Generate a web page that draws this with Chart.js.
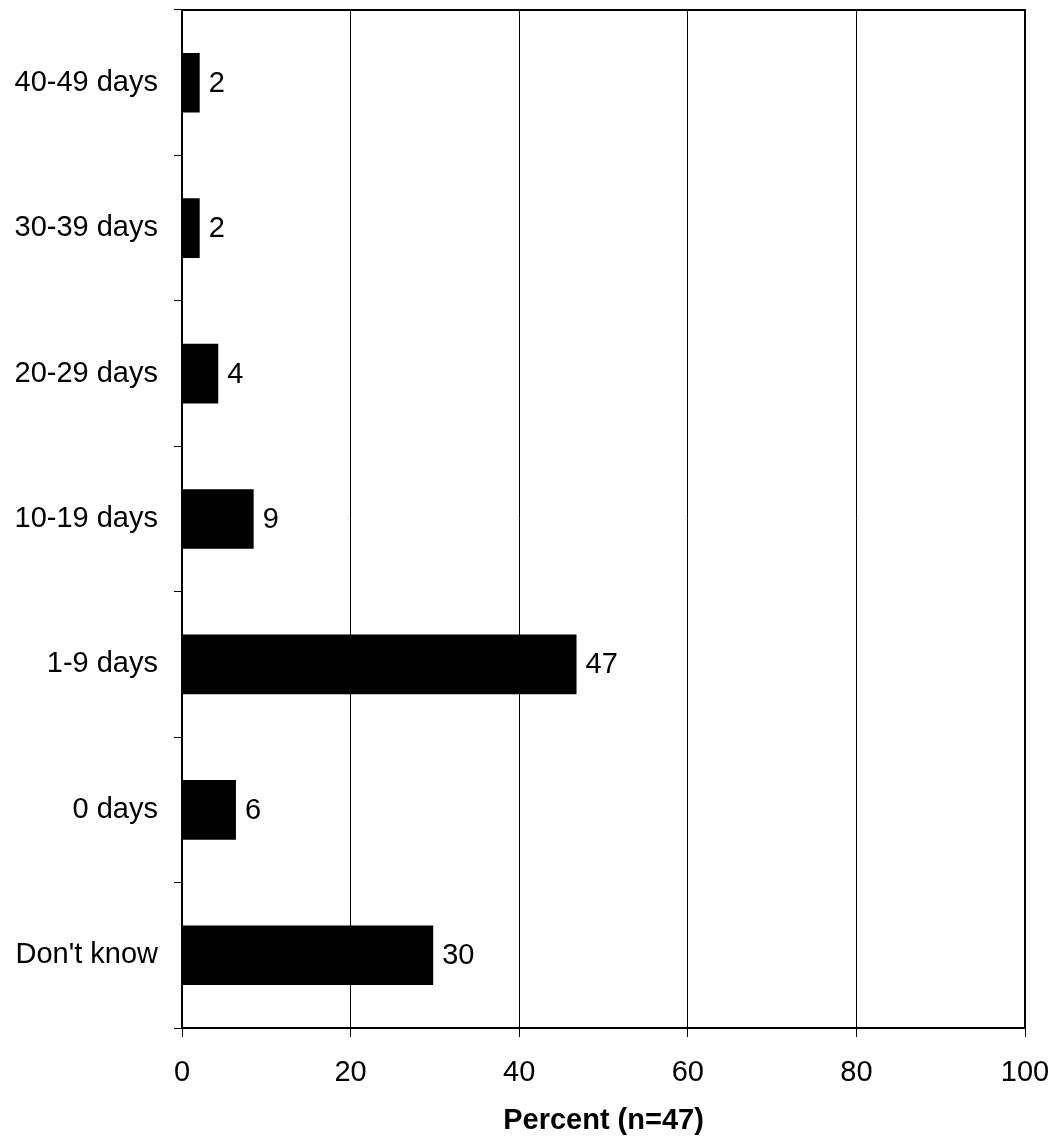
<!DOCTYPE html>
<html>
<head>
<meta charset="utf-8">
<script src="https://cdn.jsdelivr.net/npm/chart.js@4/dist/chart.umd.min.js"></script>
<style>
  body { margin: 0; background: #fff; }
  canvas { display: block; }
</style>
</head>
<body>
<canvas id="barChart" width="1053" height="1138"></canvas>
<script>
var categories = ["40-49 days", "30-39 days", "20-29 days", "10-19 days", "1-9 days", "0 days", "Don't know"];
var percents = [2.1, 2.1, 4.3, 8.5, 46.8, 6.4, 29.8];
var xTicks = [0, 20, 40, 60, 80, 100];

var FONT = "'Liberation Sans', Arial, sans-serif";

// frame round the plot area
var framePlugin = {
	id: 'frame',
	afterDraw: function(chart) {
		var a = chart.chartArea, ctx = chart.ctx;
		ctx.save();
		ctx.strokeStyle = '#000';
		ctx.lineWidth = 2;
		ctx.strokeRect(a.left, a.top, a.right - a.left, a.bottom - a.top);
		ctx.restore();
	}
};

// value next to each bar
var valuePlugin = {
	id: 'values',
	afterDatasetsDraw: function(chart) {
		var ctx = chart.ctx;
		var meta = chart.getDatasetMeta(0);
		ctx.save();
		ctx.fillStyle = '#000';
		ctx.font = '29px ' + FONT;
		ctx.textAlign = 'left';
		ctx.textBaseline = 'middle';
		meta.data.forEach(function(bar, i) {
			ctx.fillText(Math.round(percents[i]), bar.x + 9, bar.y + 1);
		});
		ctx.restore();
	}
};

function barChart(labels, values) {
	var ctx = document.getElementById("barChart").getContext('2d');
	return new Chart(ctx, {
		type: 'bar',
		data: {
			labels: labels,
			datasets: [{
				data: values,
				backgroundColor: '#000',
				borderWidth: 0,
				barPercentage: 0.41,
				categoryPercentage: 1
			}]
		},
		options: {
			indexAxis: 'y',
			responsive: false,
			animation: false,
			layout: { padding: { top: 10, right: 28, bottom: 0, left: 0 } },
			plugins: { legend: { display: false }, tooltip: { enabled: false } },
			scales: {
				x: {
					min: 0,
					max: 100,
					afterBuildTicks: function(scale) {
						scale.ticks = xTicks.map(function(v) { return { value: v }; });
					},
					afterFit: function(scale) {
						scale.height = 110;
						scale.paddingLeft = 0;
						scale.paddingRight = 0;
					},
					grid: { color: '#000', lineWidth: 1, tickLength: 9 },
					border: { display: true, color: '#000', width: 2 },
					ticks: { color: '#000', font: { family: FONT, size: 29 }, padding: 19, maxRotation: 0 },
					title: {
						display: true,
						text: 'Percent (n=47)',
						color: '#000',
						font: { family: FONT, size: 29, weight: 'bold' },
						padding: { top: 0, bottom: 0 }
					}
				},
				y: {
					offset: true,
					afterFit: function(scale) {
						scale.width = 182;
						scale.paddingTop = 0;
						scale.paddingBottom = 0;
					},
					grid: { offset: true, color: '#000', lineWidth: 1, drawOnChartArea: false, tickLength: 8 },
					border: { display: true, color: '#000', width: 2 },
					ticks: { color: '#000', font: { family: FONT, size: 29 }, padding: 16 }
				}
			}
		},
		plugins: [framePlugin, valuePlugin]
	});
}

barChart(categories, percents);
</script>
</body>
</html>
